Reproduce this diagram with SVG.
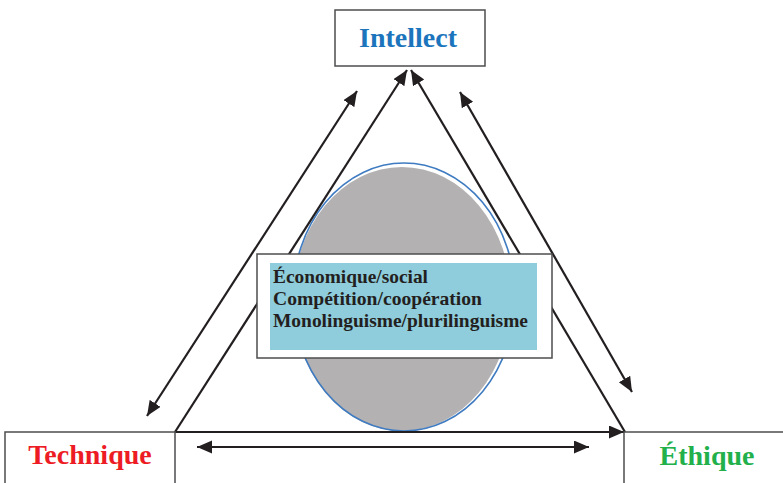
<svg xmlns="http://www.w3.org/2000/svg" width="783" height="483" viewBox="0 0 783 483">
<style>
.box{fill:#fff;stroke:#4d4d4f;stroke-width:1.5}
.ln{fill:none;stroke:#231f20;stroke-width:2.2}
.lbl{font-family:"Liberation Serif","Times New Roman",serif;font-weight:bold;font-size:28px;text-anchor:middle}
.t{font-family:"Liberation Serif","Times New Roman",serif;font-weight:bold;font-size:19px;fill:#231f20}
</style>
<defs>
<marker id="ah" markerUnits="userSpaceOnUse" markerWidth="16" markerHeight="14" refX="15" refY="6.5" orient="auto-start-reverse">
<path d="M0,0 L15,6.5 L0,13 z" fill="#231f20"/>
</marker>
</defs>
<g id="node-ellipse">
<ellipse cx="402" cy="299" rx="109" ry="132" fill="#b3b1b2"/>
<ellipse cx="404" cy="297" rx="111" ry="134" fill="none" stroke="#3f7bc1" stroke-width="1.6"/>
</g>
<g id="connectors">
<line class="ln" x1="175" y1="432" x2="407" y2="70" marker-end="url(#ah)"/>
<line class="ln" x1="625" y1="432" x2="411" y2="70" marker-end="url(#ah)"/>
<line class="ln" x1="175" y1="432" x2="624" y2="432" marker-end="url(#ah)"/>
<line class="ln" x1="147" y1="416" x2="357" y2="91" marker-start="url(#ah)" marker-end="url(#ah)"/>
<line class="ln" x1="460" y1="92" x2="632" y2="392" marker-start="url(#ah)" marker-end="url(#ah)"/>
<line class="ln" x1="197" y1="447" x2="589" y2="447" marker-start="url(#ah)" marker-end="url(#ah)"/>
</g>
<g id="node-center">
<rect class="box" x="257" y="254" width="295" height="104"/>
<rect x="270" y="263" width="267" height="87" fill="#8fccdc"/>
<text class="t" x="273" y="283" textLength="155" lengthAdjust="spacingAndGlyphs">Économique/social</text>
<text class="t" x="273" y="305" textLength="209" lengthAdjust="spacingAndGlyphs">Compétition/coopération</text>
<text class="t" x="273" y="327" textLength="255" lengthAdjust="spacingAndGlyphs">Monolinguisme/plurilinguisme</text>
</g>
<g id="node-intellect">
<rect class="box" x="335" y="10" width="150" height="56"/>
<text class="lbl" x="408" y="47" fill="#1c75bc">Intellect</text>
</g>
<g id="node-technique">
<rect class="box" x="5" y="432" width="170" height="60"/>
<text class="lbl" x="90" y="464" fill="#ed1c24">Technique</text>
</g>
<g id="node-ethique">
<rect class="box" x="624" y="432" width="170" height="60"/>
<text class="lbl" x="707" y="465" fill="#22b04b">Éthique</text>
</g>
</svg>
